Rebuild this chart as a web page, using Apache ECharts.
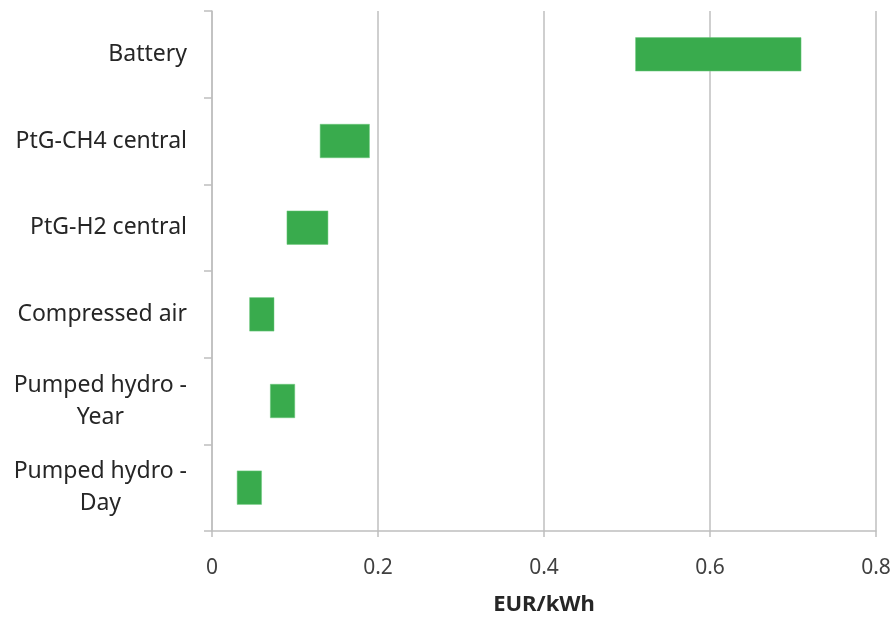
<!DOCTYPE html>
<html>
<head>
<meta charset="utf-8">
<script src="https://cdn.jsdelivr.net/npm/echarts@6/dist/echarts.min.js"></script>
<style>html,body{margin:0;padding:0;background:#fff;}#c{width:896px;height:617px;}</style>
</head>
<body>
<div id="c"></div>
<script>
const categories = ['Battery', 'PtG-CH4 central', 'PtG-H2 central', 'Compressed air', 'Pumped hydro -\nYear', 'Pumped hydro -\nDay'];
const lowValues  = [0.51, 0.13, 0.09, 0.045, 0.07, 0.03];
const highValues = [0.71, 0.19, 0.14, 0.075, 0.10, 0.06];
const xTicks = [0, 0.2, 0.4, 0.6, 0.8];
const axisTitle = 'EUR/kWh';

const chart = echarts.init(document.getElementById('c'));
const font = 'Noto Sans';
chart.setOption({
  animation: false,
  grid: { left: 212, right: 20, top: 11, bottom: 86, containLabel: false, outerBoundsMode: 'none' },
  xAxis: {
    type: 'value', min: xTicks[0], max: xTicks[xTicks.length - 1], interval: 0.2,
    name: axisTitle, nameLocation: 'middle', nameGap: 63,
    nameTextStyle: { fontFamily: font, fontSize: 22, fontWeight: 'bold', color: '#262626' },
    axisLine: { show: true, lineStyle: { color: '#bfbfbf', width: 1.5 } },
    axisTick: { show: true, length: 6, lineStyle: { color: '#bfbfbf', width: 1.5 } },
    splitLine: { show: true, lineStyle: { color: '#bfbfbf', width: 1.5 } },
    axisLabel: { fontFamily: font, fontSize: 21, color: '#404040', margin: 27,
      formatter: v => String(+v.toFixed(1)) }
  },
  yAxis: {
    type: 'category', data: categories, inverse: true,
    axisLine: { show: true, lineStyle: { color: '#bfbfbf', width: 1.5 } },
    axisTick: { show: true, length: 8, alignWithLabel: false, lineStyle: { color: '#bfbfbf', width: 1.5 } },
    splitLine: { show: false },
    axisLabel: {
      fontFamily: font, fontSize: 23, color: '#262626', margin: 25, lineHeight: 32,
      formatter: v => v.split('\n').map(s => '{c|' + s + '}').join('\n'),
      rich: { c: { align: 'center', fontFamily: font, fontSize: 23, color: '#262626', lineHeight: 32 } }
    }
  },
  series: [
    { type: 'bar', stack: 'r', data: lowValues, itemStyle: { color: 'transparent' }, barWidth: 34, silent: true },
    { type: 'bar', stack: 'r', data: highValues.map((h, i) => +(h - lowValues[i]).toFixed(4)),
      itemStyle: { color: '#39ab4d', borderColor: '#6cc97c', borderWidth: 0.5 }, barWidth: 34 }
  ]
});
</script>
</body>
</html>
